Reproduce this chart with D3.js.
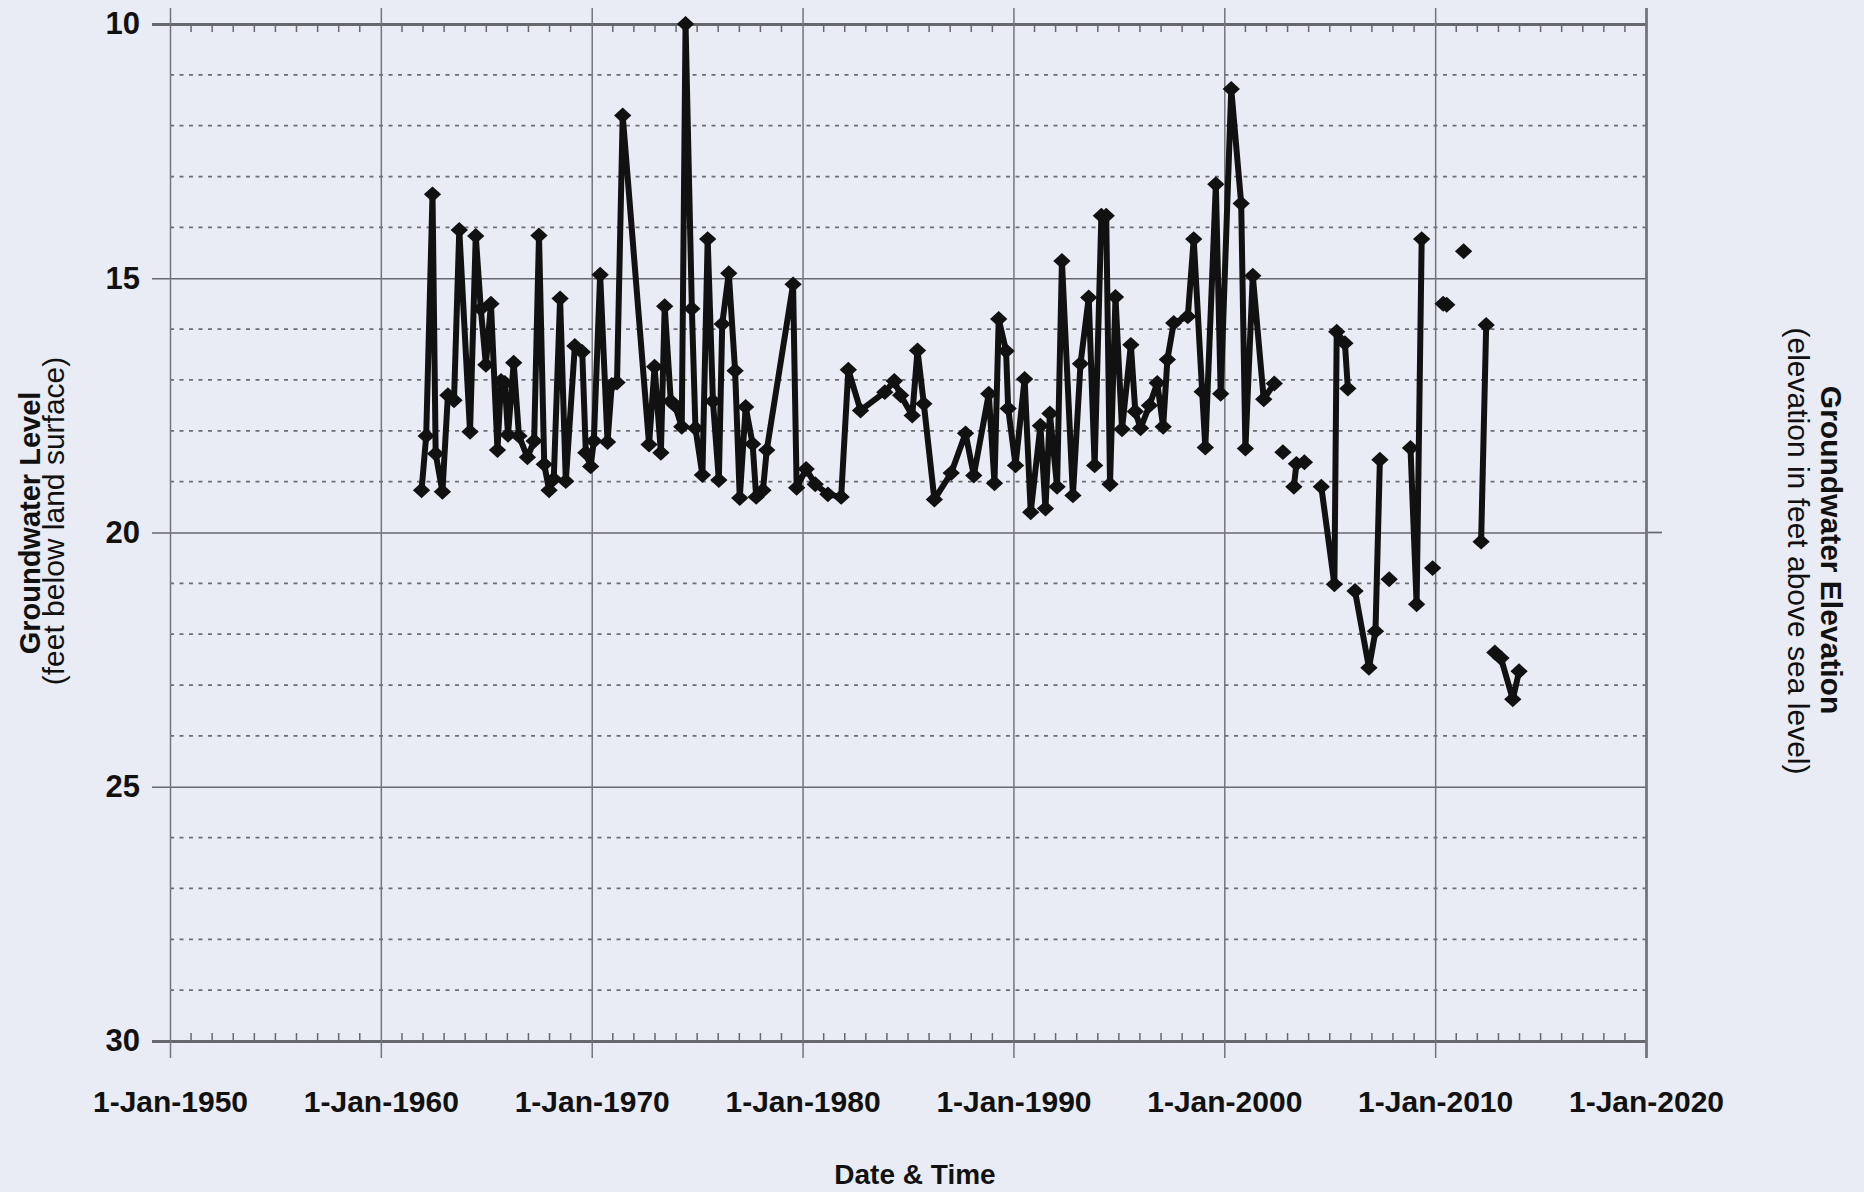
<!DOCTYPE html>
<html>
<head>
<meta charset="utf-8">
<script src="https://cdn.jsdelivr.net/npm/d3@7"></script>
<style>
  body { margin: 0; background: #e9ecf4; }
  text { font-family: "Liberation Sans", Arial, sans-serif; fill: #111; }
</style>
</head>
<body>
<div class="chart"></div>
<script>
var svgWidth = 1864;
var svgHeight = 1192;

// measurement dates (decimal years) and depth to water (feet below land surface)
var years = [
  1961.93, 1962.15, 1962.45, 1962.6, 1962.92, 1963.18, 1963.47, 1963.72, 1964.23, 1964.5,
  1964.74, 1964.98, 1965.22, 1965.53, 1965.7, 1965.88, 1966.03, 1966.3, 1966.55, 1966.95,
  1967.27, 1967.5, 1967.75, 1967.98, 1968.2, 1968.5, 1968.77, 1969.2, 1969.55, 1969.72,
  1969.95, 1970.1, 1970.4, 1970.75, 1970.95, 1971.2, 1971.47, 1972.72, 1972.98, 1973.28,
  1973.46, 1973.75, 1973.95, 1974.27, 1974.45, 1974.75, 1974.92, 1975.25, 1975.5, 1975.75,
  1976.03, 1976.19, 1976.5, 1976.8, 1977.02, 1977.3, 1977.63, 1977.8, 1978.12, 1978.3,
  1979.55, 1979.72, 1980.17, 1980.6, 1981.2, 1981.83, 1982.17, 1982.75, 1983.9, 1984.35,
  1984.65, 1985.2, 1985.45, 1985.75, 1986.25, 1987.05, 1987.73, 1988.12, 1988.83, 1989.1,
  1989.3, 1989.65, 1989.75, 1990.1, 1990.53, 1990.82, 1991.28, 1991.52, 1991.73, 1992.07,
  1992.3, 1992.82, 1993.18, 1993.57, 1993.85, 1994.17, 1994.4, 1994.58, 1994.84, 1995.15,
  1995.57, 1995.78, 1996.03, 1996.45, 1996.82, 1997.1, 1997.3, 1997.6, 1998.27, 1998.55,
  1998.95, 1999.1, 1999.6, 1999.83, 2000.33, 2000.8, 2001.0, 2001.35, 2001.87, 2002.37,
  2002.78,
  2003.3, 2003.42, 2003.8,
  2004.6, 2005.22, 2005.33, 2005.72, 2005.86,
  2006.2, 2006.86, 2007.17, 2007.38,
  2007.82,
  2008.83, 2009.12, 2009.36,
  2009.88,
  2010.38, 2010.55,
  2011.35,
  2012.18, 2012.42,
  2012.83, 2013.12, 2013.68, 2013.98
];

var levels = [
  19.17, 18.1, 13.35, 18.45, 19.2, 17.3, 17.4, 14.05, 18.02, 14.17,
  15.6, 16.7, 15.5, 18.38, 17.02, 17.06, 18.08, 16.66, 18.1, 18.52,
  18.2, 14.16, 18.66, 19.17, 18.95, 15.4, 18.99, 16.33, 16.45, 18.43,
  18.7, 18.2, 14.93, 18.22, 17.1, 17.05, 11.8, 18.27, 16.74, 18.43,
  15.55, 17.42, 17.5, 17.92, 10.0, 15.6, 17.95, 18.87, 14.23, 17.42,
  18.97, 15.9, 14.9, 16.82, 19.32, 17.53, 18.26, 19.3, 19.17, 18.38,
  15.12, 19.12, 18.75, 19.05, 19.25, 19.3, 16.8, 17.6, 17.24, 17.02,
  17.3, 17.7, 16.42, 17.47, 19.35, 18.83, 18.05, 18.88, 17.27, 19.03,
  15.8, 16.43, 17.56, 18.68, 16.98, 19.6, 17.9, 19.53, 17.66, 19.1,
  14.66, 19.27, 16.68, 15.38, 18.68, 13.77, 13.77, 19.05, 15.37, 17.97,
  16.31, 17.62, 17.95, 17.5, 17.06, 17.92, 16.6, 15.88, 15.75, 14.23,
  17.23, 18.33, 13.15, 17.27, 11.28, 13.53, 18.35, 14.95, 17.38, 17.07,
  18.42,
  19.1, 18.65, 18.62,
  19.1, 21.02, 16.05, 16.28, 17.17,
  21.15, 22.66, 21.94, 18.57,
  20.92,
  18.34, 21.41, 14.23,
  20.7,
  15.5, 15.52,
  14.47,
  20.18, 15.92,
  22.36, 22.47, 23.28, 22.73
];

// the record line is broken (no connecting line) at these dates
var breakYears = [2002.6, 2003.1, 2004.2, 2006.0, 2007.6, 2008.3, 2009.6, 2010.1, 2010.9, 2011.8, 2012.6];

var decadeYears = [1950, 1960, 1970, 1980, 1990, 2000, 2010, 2020];
var levelTicks = [10, 15, 20, 25, 30];

var plotLeft = 170, plotRight = 1646, plotTop = 24, plotBottom = 1041;

function toDate(yr) {
  var y = Math.floor(yr);
  var start = new Date(y, 0, 1), end = new Date(y + 1, 0, 1);
  return new Date(+start + (yr - y) * (end - start));
}

var points = years.map(function(yr, i) {
  return { date: toDate(yr), level: levels[i], seg: d3.bisectRight(breakYears, yr) };
});

var svg = d3.select(".chart")
  .append("svg")
  .attr("width", svgWidth)
  .attr("height", svgHeight);

svg.append("rect")
  .attr("width", svgWidth)
  .attr("height", svgHeight)
  .attr("fill", "#e9ecf4");

var x = d3.scaleTime()
  .domain([new Date(1950, 0, 1), new Date(2020, 0, 1)])
  .range([plotLeft, plotRight]);

var y = d3.scaleLinear()
  .domain([10, 30])
  .range([plotTop, plotBottom]);

// dashed minor gridlines every foot
var minorLevels = d3.range(11, 30).filter(function(v) { return v % 5 !== 0; });
svg.append("g").selectAll("line")
  .data(minorLevels)
  .enter()
  .append("line")
  .attr("x1", plotLeft)
  .attr("x2", plotRight)
  .attr("y1", d => y(d))
  .attr("y2", d => y(d))
  .attr("stroke", "#6c6e74")
  .attr("stroke-width", 1.7)
  .attr("stroke-dasharray", "4,5.5");

// left axis with full-width solid gridlines
var leftAxis = d3.axisLeft(y)
  .tickValues(levelTicks)
  .tickFormat(d3.format("d"))
  .tickSize(-(plotRight - 152))
  .tickPadding(12);

var yAxisG = svg.append("g")
  .attr("transform", "translate(152,0)")
  .call(leftAxis);
yAxisG.select(".domain").remove();
yAxisG.selectAll("line")
  .attr("stroke", "#66686e")
  .attr("stroke-width", d => (d === 10 || d === 30) ? 2.8 : 1.7);
yAxisG.selectAll("text")
  .attr("font-size", 31)
  .attr("font-weight", "bold")
  .attr("fill", "#111");

// the 20 ft line runs a little past the right edge
svg.append("line")
  .attr("x1", plotRight)
  .attr("x2", plotRight + 16)
  .attr("y1", y(20))
  .attr("y2", y(20))
  .attr("stroke", "#66686e")
  .attr("stroke-width", 1.7);

// bottom axis: decade gridlines and labels
var bottomAxis = d3.axisBottom(x)
  .tickValues(decadeYears.map(d => new Date(d, 0, 1)))
  .tickFormat(d => "1-Jan-" + d.getFullYear())
  .tickSize(-(1058 - 8))
  .tickPadding(33);

var xAxisG = svg.append("g")
  .attr("transform", "translate(0,1058)")
  .call(bottomAxis);
xAxisG.select(".domain").remove();
xAxisG.selectAll("line")
  .attr("stroke", "#74757b")
  .attr("stroke-width", (d, i) => i === decadeYears.length - 1 ? 2.8 : 1.5);
xAxisG.selectAll("text")
  .attr("font-size", 30)
  .attr("font-weight", "bold")
  .attr("fill", "#111");

// yearly minor ticks along the top and bottom axes
var minorYears = x.ticks(d3.timeYear.every(1)).filter(d => d.getFullYear() % 10 !== 0);
svg.append("g").selectAll("line")
  .data(minorYears)
  .enter()
  .append("line")
  .attr("x1", d => x(d))
  .attr("x2", d => x(d))
  .attr("y1", plotTop)
  .attr("y2", plotTop + 8)
  .attr("stroke", "#66686e")
  .attr("stroke-width", 1.5);

svg.append("g").selectAll("line")
  .data(minorYears)
  .enter()
  .append("line")
  .attr("x1", d => x(d))
  .attr("x2", d => x(d))
  .attr("y1", plotBottom)
  .attr("y2", plotBottom - 8)
  .attr("stroke", "#66686e")
  .attr("stroke-width", 1.5);

// water level record
var line = d3.line()
  .x(d => x(d.date))
  .y(d => y(d.level));

var segments = d3.groups(points, d => d.seg);

svg.append("g").selectAll("path")
  .data(segments)
  .enter()
  .append("path")
  .attr("d", d => line(d[1]))
  .attr("fill", "none")
  .attr("stroke", "#111")
  .attr("stroke-width", 6)
  .attr("stroke-linejoin", "round");

var diamondType = {
  draw: function(context, size) {
    var r = Math.sqrt(size) / 2;
    context.moveTo(0, -r * 0.92);
    context.lineTo(r, 0);
    context.lineTo(0, r * 0.92);
    context.lineTo(-r, 0);
    context.closePath();
  }
};

svg.append("g").selectAll("path")
  .data(points)
  .enter()
  .append("path")
  .attr("transform", d => `translate(${x(d.date)}, ${y(d.level)})`)
  .attr("d", d3.symbol().type(diamondType).size(300))
  .attr("fill", "#111");

// axis titles
svg.append("text")
  .attr("transform", "translate(40,523) rotate(-90)")
  .attr("text-anchor", "middle")
  .attr("font-size", 29)
  .attr("font-weight", "bold")
  .text("Groundwater Level");

svg.append("text")
  .attr("transform", "translate(64,521) rotate(-90)")
  .attr("text-anchor", "middle")
  .attr("font-size", 30)
  .text("(feet below land surface)");

svg.append("text")
  .attr("transform", "translate(1821,550) rotate(90)")
  .attr("text-anchor", "middle")
  .attr("font-size", 30)
  .attr("font-weight", "bold")
  .text("Groundwater Elevation");

svg.append("text")
  .attr("transform", "translate(1788,551) rotate(90)")
  .attr("text-anchor", "middle")
  .attr("font-size", 30)
  .text("(elevation in feet above sea level)");

svg.append("text")
  .attr("x", 915)
  .attr("y", 1184)
  .attr("text-anchor", "middle")
  .attr("font-size", 28)
  .attr("font-weight", "bold")
  .text("Date & Time");
</script>
</body>
</html>
